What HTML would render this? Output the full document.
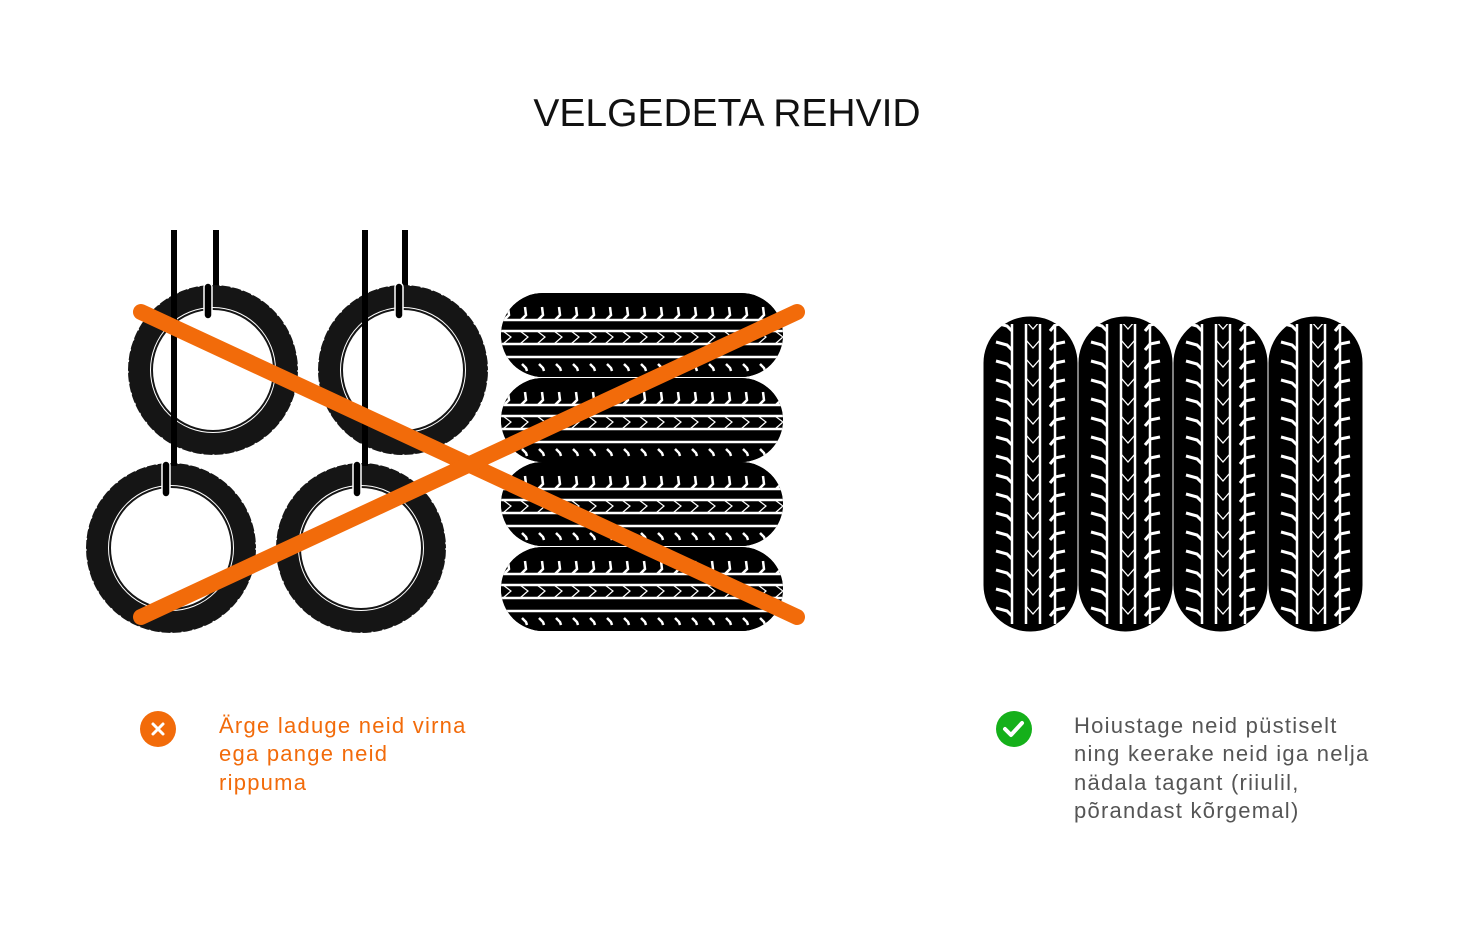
<!DOCTYPE html>
<html><head><meta charset="utf-8"><style>
html,body{margin:0;padding:0;background:#fff;width:1463px;height:944px;overflow:hidden}
svg{display:block}
</style></head><body>
<svg width="1463" height="944" viewBox="0 0 1463 944" xmlns="http://www.w3.org/2000/svg">
<defs>
<pattern id="up" patternUnits="userSpaceOnUse" width="95" height="19">
<rect width="95" height="19" fill="#000"/>
<g stroke="#fff" fill="none">
<line x1="29" y1="0" x2="29" y2="19" stroke-width="2.5"/>
<line x1="43" y1="0" x2="43" y2="19" stroke-width="2.5"/>
<line x1="57" y1="0" x2="57" y2="19" stroke-width="2.5"/>
<line x1="72" y1="0" x2="72" y2="19" stroke-width="2.5"/>
<path d="M13 7 L24 10 L29 15" stroke-width="3"/>
<path d="M82 7 L72 9 L67 15" stroke-width="3"/>
<path d="M43 5 L50 13 L57 5" stroke-width="1.3"/>
</g>
</pattern>
<pattern id="hz" patternUnits="userSpaceOnUse" width="17" height="84">
<rect width="17" height="84" fill="#000"/>
<g stroke="#fff" fill="none">
<line x1="0" y1="27" x2="17" y2="27" stroke-width="2.5"/>
<line x1="0" y1="38" x2="17" y2="38" stroke-width="2.5"/>
<line x1="0" y1="51" x2="17" y2="51" stroke-width="2.5"/>
<line x1="0" y1="64" x2="17" y2="64" stroke-width="2.5"/>
<path d="M7 14 L8 22 L3 27" stroke-width="2.5"/>
<path d="M4 71 L8 75 L9 78" stroke-width="2.5"/>
<path d="M2 38 L10 44 L2 51" stroke-width="1.2"/>
</g>
</pattern>
<clipPath id="upc"><rect x="0" y="0" width="95" height="316" rx="47" ry="47"/></clipPath>
<clipPath id="hzc"><rect x="0" y="0" width="282" height="84" rx="42" ry="42"/></clipPath>
<g id="uptire"><rect x="0" y="0" width="95" height="316" rx="47" fill="#000"/><rect x="0" y="8" width="95" height="300" fill="url(#up)" clip-path="url(#upc)"/><rect x="0" y="0" width="95" height="316" rx="47" fill="none" stroke="#fff" stroke-width="1"/></g>
<g id="hztire"><rect x="0" y="0" width="282" height="84" rx="42" fill="#000"/><rect x="0" y="0" width="282" height="84" fill="url(#hz)" clip-path="url(#hzc)"/></g>
<g id="ring">
<circle r="74" fill="none" stroke="#151515" stroke-width="22"/>
<circle r="85" fill="none" stroke="#fff" stroke-width="1.2" stroke-dasharray="2 9"/>
<circle r="61" fill="none" stroke="#151515" stroke-width="2"/>
</g>
</defs>

<text x="727" y="126" text-anchor="middle" font-family="Liberation Sans, sans-serif" font-size="39" fill="#111">VELGEDETA REHVID</text>

<g fill="#000">
<rect x="171" y="230" width="6" height="236"/>
<rect x="213" y="230" width="6" height="58"/>
<rect x="362" y="230" width="6" height="236"/>
<rect x="402" y="230" width="6" height="56"/>
</g>
<use href="#ring" x="213" y="370"/>
<use href="#ring" x="403" y="370"/>
<use href="#ring" x="171" y="548"/>
<use href="#ring" x="361" y="548"/>
<g fill="#000">
<rect x="171" y="285" width="6" height="181"/>
<rect x="362" y="285" width="6" height="181"/>
</g>
<g fill="#000" stroke="#fff" stroke-width="1.5">
<rect x="204" y="283" width="8" height="36" rx="4"/>
<rect x="395" y="283" width="8" height="36" rx="4"/>
<rect x="162" y="461" width="8" height="36" rx="4"/>
<rect x="353" y="461" width="8" height="36" rx="4"/>
</g>

<use href="#hztire" x="501" y="293"/>
<use href="#hztire" x="501" y="378"/>
<use href="#hztire" x="501" y="462"/>
<use href="#hztire" x="501" y="547"/>

<g stroke="#f26b0a" stroke-width="16" stroke-linecap="round">
<line x1="141" y1="312" x2="797" y2="617"/>
<line x1="141" y1="617" x2="797" y2="312"/>
</g>

<use href="#uptire" x="983" y="316"/>
<use href="#uptire" x="1078" y="316"/>
<use href="#uptire" x="1173" y="316"/>
<use href="#uptire" x="1268" y="316"/>

<circle cx="158" cy="729" r="18" fill="#f26b0a"/>
<path d="M153 724 L163 734 M163 724 L153 734" stroke="#fff" stroke-width="3" stroke-linecap="round"/>
<circle cx="1014" cy="729" r="18" fill="#15b01a"/>
<path d="M1005 729 L1011 735 L1022 723" stroke="#fff" stroke-width="4" fill="none" stroke-linecap="round" stroke-linejoin="round"/>

<g font-family="Liberation Sans, sans-serif" font-size="22" letter-spacing="1.25">
<g fill="#f26b0a">
<text x="219" y="733">Ärge laduge neid virna</text>
<text x="219" y="761">ega pange neid</text>
<text x="219" y="790">rippuma</text>
</g>
<g fill="#555">
<text x="1074" y="733">Hoiustage neid püstiselt</text>
<text x="1074" y="761">ning keerake neid iga nelja</text>
<text x="1074" y="790">nädala tagant (riiulil,</text>
<text x="1074" y="818">põrandast kõrgemal)</text>
</g>
</g>
</svg>
</body></html>
